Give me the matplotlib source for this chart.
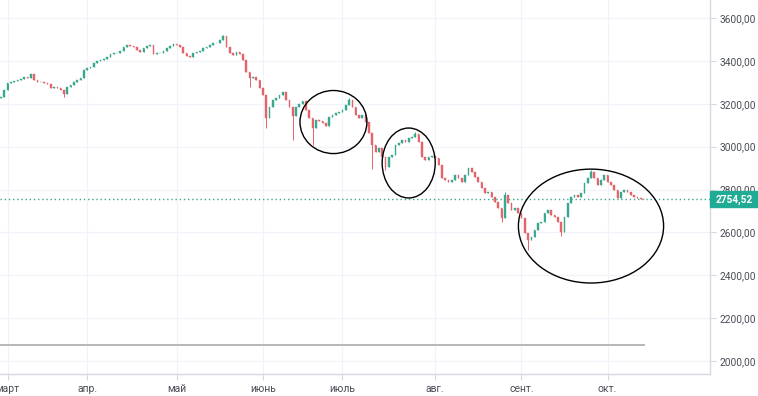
import numpy as np
import matplotlib
matplotlib.use("Agg")
import matplotlib.pyplot as plt
from matplotlib.patches import Ellipse, Rectangle
from matplotlib.transforms import blended_transform_factory

# daily closes (mid-March .. mid-October)
closes = [
    3232, 3264, 3297, 3302, 3306, 3311, 3316, 3325, 3320, 3339, 3311, 3302, 3302, 3297, 3292, 3274,
    3278, 3274, 3264, 3246, 3278, 3288, 3302, 3311, 3320, 3358, 3367, 3372, 3390, 3400, 3404,
    3409, 3420, 3432, 3435, 3438, 3446, 3466, 3474, 3471, 3466, 3451, 3443, 3459, 3469, 3474, 3432,
    3435, 3438, 3448, 3459, 3469, 3479, 3474, 3463, 3435, 3423, 3420, 3435, 3443, 3448, 3459, 3466,
    3474, 3482, 3485, 3497, 3516,
    3465, 3437, 3428, 3442, 3432, 3404, 3348, 3320, 3325, 3311, 3274, 3241, 3134, 3185, 3218, 3227,
    3241, 3255, 3218, 3185, 3143, 3185, 3199, 3213, 3171, 3134, 3087, 3124, 3120, 3110, 3096, 3139,
    3148, 3157, 3162,
    3171, 3194, 3218, 3185, 3148, 3134, 3148, 3115, 3064, 3008, 2975, 2994, 2952, 2905, 2952, 2961,
    3008, 3017, 3031, 3022, 3041, 3045, 3059, 3022, 2952, 2938, 2952, 2957, 2947, 2915, 2854, 2845,
    2836, 2845, 2868, 2854, 2836, 2868, 2901, 2882, 2859, 2836, 2807, 2784, 2789, 2766, 2742, 2714,
    2668, 2775, 2738, 2705, 2714, 2691, 2668, 2598, 2565, 2579, 2612, 2644, 2649, 2691, 2705,
    2682, 2672, 2649, 2602, 2672, 2738, 2766, 2775, 2766, 2784, 2831, 2854, 2882, 2854, 2821, 2845,
    2868, 2836, 2821, 2798, 2761, 2789, 2798, 2789, 2775, 2766, 2761, 2756, 2754.52,
]
first_open = 3225.0
# visible long wicks: bar index -> price
spike_lows = {19: 3232, 75: 3280, 80: 3087, 88: 3031, 94: 3008, 112: 2895, 116: 2891,
              151: 2649, 159: 2518, 169: 2584}
spike_highs = {67: 3521, 105: 3228, 125: 3068, 152: 2789, 178: 2891}
last_price = 2754.52
base_level = 2075.0

month_labels = ["март", "апр.", "май", "июнь", "июль", "авг.", "сент.", "окт."]
month_idx = [2, 26, 53, 79, 103, 131, 157, 183]
price_ticks = [2000, 2200, 2400, 2600, 2800, 3000, 3200, 3400, 3600]

# hand-drawn circles: (bar, price, width in bars, height in price)
circles = [(100.3, 3115, 20.2, 294), (123.0, 2924, 16.0, 326), (178.0, 2630, 43.8, 531)]

UP, DOWN = "#3aa88f", "#e4646a"
GRID = "#f0f3fa"
AXC = "#d6d9e0"
TXT = "#4a4d55"
FONT = "Roboto"

opens = [first_open] + closes[:-1]
n = len(closes)
x = np.arange(n)
o = np.array(opens, dtype=float)
c = np.array(closes, dtype=float)
hi = np.maximum(o, c)
lo = np.minimum(o, c)
for i, v in spike_lows.items():
    lo[i] = min(lo[i], v)
for i, v in spike_highs.items():
    hi[i] = max(hi[i], v)
col = np.where(c >= o, UP, DOWN)

fig = plt.figure(figsize=(7.58, 3.96), dpi=100)
ax = fig.add_axes([0, 22 / 396, 710 / 758, 374 / 396])

ax.vlines(x, lo, hi, colors=col, linewidth=0.7, zorder=3)
ax.bar(x, c - o, bottom=o, width=0.5, color=col, edgecolor=col, linewidth=0.3, zorder=3)

ax.plot([0, n - 1], [base_level, base_level], color="#b8b8b8", lw=1.4, zorder=2)
ax.axhline(last_price, color=UP, ls=(0, (1, 2)), lw=1.0, zorder=2)

for cx, cy, w, h in circles:
    ax.add_patch(Ellipse((cx, cy), w, h, fill=False, ec="black", lw=1.0, zorder=4))

ax.set_xlim(-0.3, 213.9)
ax.set_ylim(1940.3, 3683.9)

ax.set_xticks(month_idx)
ax.set_xticklabels(month_labels, fontsize=7.5, color=TXT, family=FONT)
ax.yaxis.tick_right()
ax.set_yticks(price_ticks)
ax.set_yticklabels([f"{v:.2f}".replace(".", ",") for v in price_ticks],
                   fontsize=7.3, color=TXT, family=FONT)
ax.tick_params(axis="x", length=4, color=AXC, pad=3)
ax.tick_params(axis="y", length=4, color=AXC, pad=3)
ax.grid(True, color=GRID, lw=0.9, zorder=0)
ax.set_axisbelow(True)

for s in ("top", "left"):
    ax.spines[s].set_visible(False)
for s in ("right", "bottom"):
    ax.spines[s].set_color(AXC)
    ax.spines[s].set_linewidth(1.0)

# last price label on the scale
tr = blended_transform_factory(ax.transAxes, ax.transData)
ax.add_patch(Rectangle((1.0, last_price - 37), 48 / 710, 75, transform=tr, color="#22ab94",
                       clip_on=False, zorder=6))
ax.text(1.0 + 24 / 710, last_price, "2754,52", transform=tr, ha="center", va="center",
        color="white", fontsize=7.3, fontweight="bold", family=FONT, zorder=7, clip_on=False)

fig.savefig("out.png", dpi=100)
